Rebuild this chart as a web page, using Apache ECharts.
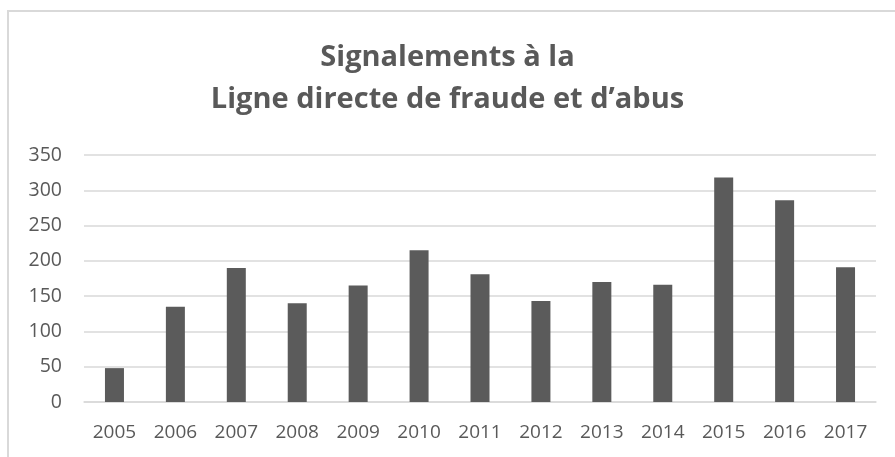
<!DOCTYPE html>
<html>
<head>
<meta charset="UTF-8">
<script src="https://cdn.jsdelivr.net/npm/echarts@6/dist/echarts.min.js"></script>
<style>
html, body { margin: 0; padding: 0; background: #fff; }
#main { width: 895px; height: 457px; }
</style>
</head>
<body>
<div id="main"></div>
<script>
var years = ['2005', '2006', '2007', '2008', '2009', '2010', '2011', '2012', '2013', '2014', '2015', '2016', '2017'];
var reports = [48, 135, 190, 140, 165, 215, 181, 143, 170, 166, 318, 286, 191];
var titleLines = ['Signalements à la', 'Ligne directe de fraude et d\u2019abus'];

var textGrey = '#595959';
var chart = echarts.init(document.getElementById('main'));

var option = {
    backgroundColor: '#fff',
    animation: false,
    title: {
        text: titleLines.join('\n'),
        left: 'center',
        top: 32,
        textStyle: {
            fontFamily: 'Open Sans',
            fontWeight: 'bold',
            fontSize: 29,
            lineHeight: 42,
            color: textGrey
        }
    },
    graphic: [{
        type: 'rect',
        shape: { x: 8, y: 11, width: 1000, height: 1000 },
        style: { fill: null, stroke: '#d9d9d9', lineWidth: 2 },
        silent: true
    }],
    grid: {
        left: 84,
        right: 19,
        top: 155,
        bottom: 55,
        containLabel: false
    },
    xAxis: {
        type: 'category',
        data: years,
        axisLine: { show: true, lineStyle: { color: '#d9d9d9', width: 1.5 } },
        axisTick: { show: false },
        axisLabel: {
            fontFamily: 'Open Sans',
            fontSize: 19,
            color: textGrey,
            margin: 21,
            interval: 0
        }
    },
    yAxis: {
        type: 'value',
        min: 0,
        max: 350,
        interval: 50,
        axisLine: { show: false },
        axisTick: { show: false },
        splitLine: { lineStyle: { color: '#d9d9d9', width: 1.5 } },
        axisLabel: {
            fontFamily: 'Open Sans',
            fontSize: 19.5,
            color: textGrey,
            margin: 22
        }
    },
    series: [{
        name: 'Signalements',
        type: 'bar',
        data: reports,
        barWidth: 19,
        itemStyle: { color: '#5b5b5b' }
    }]
};

chart.setOption(option);
</script>
</body>
</html>
